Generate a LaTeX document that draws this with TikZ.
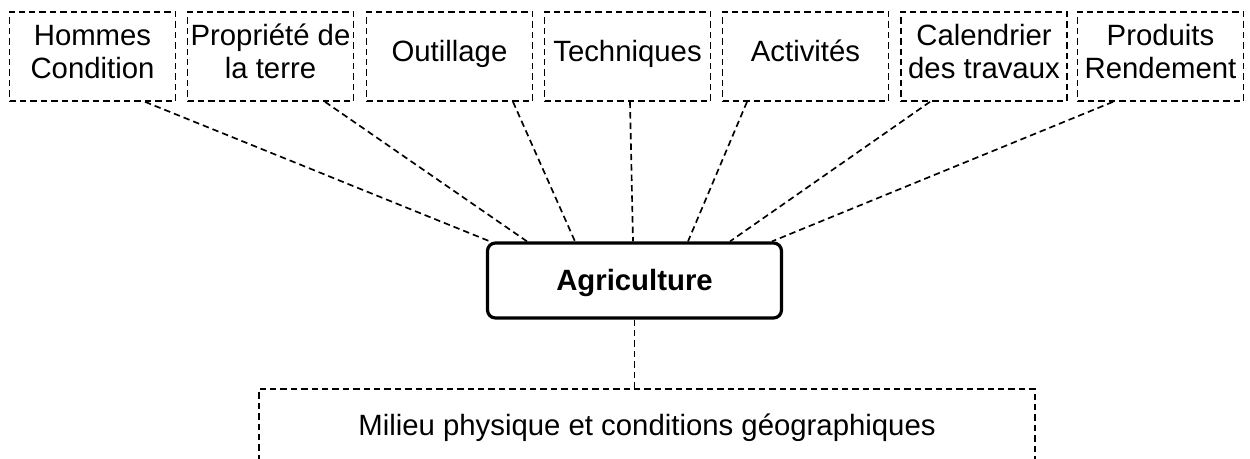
\documentclass[tikz,border=0pt]{standalone}
\usepackage{fontspec}
\setmainfont{Liberation Sans}
\usetikzlibrary{calc}
\newcommand\bstrut{\rule[-8pt]{0pt}{24pt}}
\tikzset{
  dsh/.style={line width=1.25pt, dash pattern=on 4.8pt off 3pt},
  topbox/.style={draw, dsh, minimum width=124.5pt, minimum height=66.75pt, inner sep=0pt, align=center, font=\fontsize{22}{24.75}\selectfont},
  mainbox/.style={draw, line width=2.4pt, rounded corners=6pt, minimum width=220.5pt, minimum height=56.25pt, inner sep=0pt, font=\fontsize{22}{24.75}\selectfont\bfseries, text height=15.8pt, text depth=1pt},
  basebox/.style={draw, dsh, minimum width=582pt, minimum height=58pt, inner sep=0pt, font=\fontsize{22}{24.75}\selectfont, text height=16pt, text depth=4.6pt},
  link/.style={dsh}
}
\begin{document}
\begin{tikzpicture}[x=0.75pt,y=-0.75pt]
\useasboundingbox (0,0) rectangle (1250,459);
\clip (0,0) rectangle (1250,459);
\node[topbox] (b1) at (92.5,56.5) {\bstrut Hommes\\\bstrut Condition};
\node[topbox] (b2) at (270.5,56.5) {\bstrut Propriété de\\\bstrut la terre};
\node[topbox] (b3) at (449.5,56.5) {\bstrut Outillage};
\node[topbox] (b4) at (627.5,56.5) {\bstrut Techniques};
\node[topbox] (b5) at (805.5,56.5) {\bstrut Activités};
\node[topbox] (b6) at (984,56.5) {\bstrut Calendrier\\\bstrut des travaux};
\node[topbox] (b7) at (1160.5,56.5) {\bstrut Produits\\\bstrut Rendement};
\node[mainbox] (agri) at (634.5,280.5) {Agriculture};
\node[basebox] (base) at (647,427.7) {Milieu physique et conditions géographiques};
\coordinate (s1) at (145,0 |- b1.south);
\coordinate (s2) at (325,0 |- b2.south);
\coordinate (s3) at (513,0 |- b3.south);
\coordinate (s4) at (630,0 |- b4.south);
\coordinate (s5) at (747,0 |- b5.south);
\coordinate (s6) at (930,0 |- b6.south);
\coordinate (s7) at (1113,0 |- b7.south);
\coordinate (e1) at (490,0 |- agri.north);
\coordinate (e2) at (527,0 |- agri.north);
\coordinate (e3) at (575,0 |- agri.north);
\coordinate (e4) at (633,0 |- agri.north);
\coordinate (e5) at (688,0 |- agri.north);
\coordinate (e6) at (730,0 |- agri.north);
\coordinate (e7) at (772,0 |- agri.north);
\foreach \i in {1,...,7} {\draw[link] (s\i) -- (e\i);}
\draw[link] (agri.south) -- (agri.south |- base.north);
\end{tikzpicture}
\end{document}
